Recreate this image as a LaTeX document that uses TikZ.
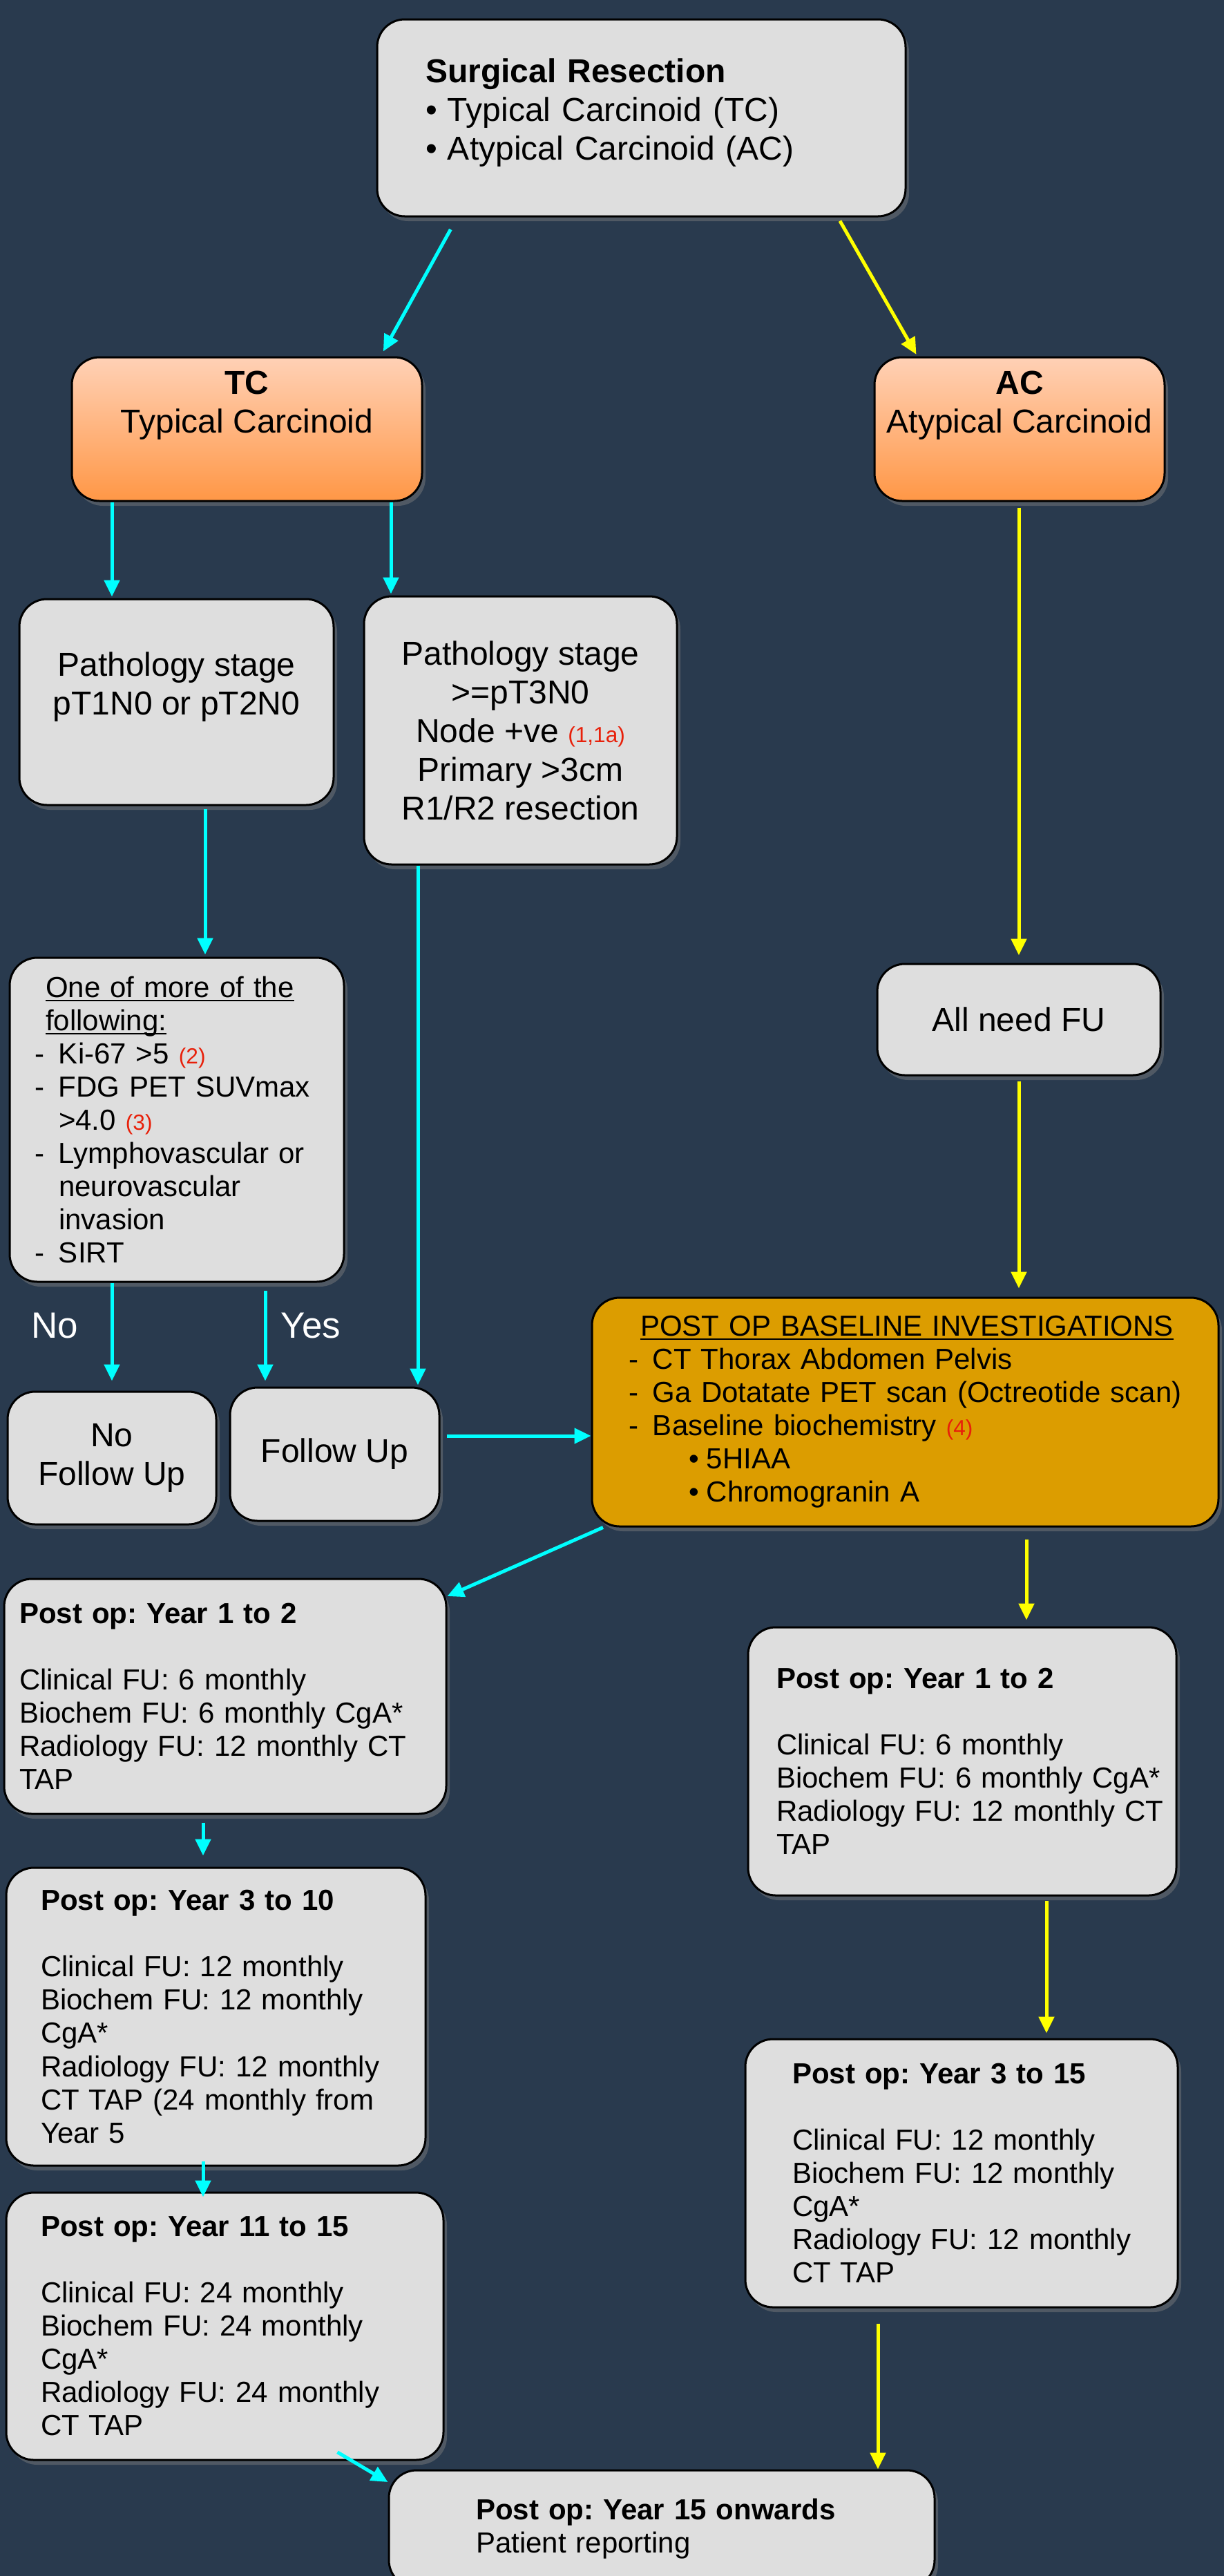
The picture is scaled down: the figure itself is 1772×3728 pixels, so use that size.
\documentclass[tikz,border=0pt]{standalone}
\usepackage{fontspec}
\setmainfont{Liberation Sans}
\usetikzlibrary{arrows.meta,shadows}
\definecolor{sfondo}{RGB}{41,58,78}
\definecolor{grigio}{RGB}{222,222,222}
\definecolor{oro}{RGB}{220,157,0}
\definecolor{pescachiaro}{RGB}{255,209,182}
\definecolor{pescascuro}{RGB}{255,151,70}
\definecolor{rossoref}{RGB}{232,32,10}
\definecolor{ciano}{RGB}{0,255,255}
\definecolor{giallo}{RGB}{255,255,0}
\frenchspacing
\newcommand{\grande}{\fontsize{13.66}{15.94}\selectfont}
\newcommand{\normale}{\fontsize{11.95}{13.66}\selectfont}
\newcommand{\rif}[1]{{\fontsize{9}{10}\selectfont\color{rossoref}#1}}
\newcommand{\trattino}{\makebox[3.5mm][l]{-}}
\newcommand{\pallino}{\makebox[3.2mm][l]{\textbullet}}
\newcommand{\sotto}[1]{\leavevmode\setbox0\hbox{#1}\rlap{\rule[-0.55mm]{\wd0}{0.25mm}}\box0}
\tikzset{
  riquadro/.style={draw=black, line width=0.3mm, rounded corners=4mm, fill=grigio,
    drop shadow={shadow xshift=0.5mm, shadow yshift=-0.7mm, opacity=0.45}},
  centrato/.style={riquadro, font=\grande, align=center},
  arancio/.style={centrato, top color=pescachiaro, bottom color=pescascuro},
  elenco/.style={riquadro, font=\normale, align=left},
  frecciaciano/.style={draw=ciano, line width=0.5mm, -{Triangle[length=2.4mm, width=2.2mm]}},
  frecciagiallo/.style={draw=giallo, line width=0.5mm, -{Triangle[length=2.4mm, width=2.2mm]}},
  scritta/.style={text=white, font=\fontsize{15.08}{18}\selectfont}
}
\begin{document}
\begin{tikzpicture}[x=0.1mm, y=-0.1mm]
        \useasboundingbox (0,0) rectangle (1772,3728);
        \fill[sfondo] (0,0) rectangle (1772,3728); %sfondo
        %resezione
        \node[riquadro, font=\grande, align=left, text width=62.5mm, inner xsep=7mm, minimum width=76.5mm, minimum height=28.5mm] (resezione) at (928.5,170.5) {\textbf{Surgical Resection}\\\pallino Typical Carcinoid (TC)\\\pallino Atypical Carcinoid (AC)\\[-3.2mm]\mbox{}};
        %carcinoide tipico / atipico
        \node[arancio, minimum width=50.7mm, minimum height=20.8mm] (tc) at (357.5,621) {\textbf{TC}\\Typical Carcinoid\\[2.3mm]\mbox{}};
        \node[arancio, minimum width=42mm, minimum height=20.8mm] (ac) at (1476,621) {\textbf{AC}\\Atypical Carcinoid\\[2.3mm]\mbox{}};
        %stadi patologici
        \node[centrato, minimum width=45.5mm, minimum height=29.8mm] (stadio1) at (255.5,1016) {Pathology stage\\pT1N0 or pT2N0\\[-0.2mm]\mbox{}};
        \node[centrato, minimum width=45.3mm, minimum height=38.8mm] (stadio2) at (753.5,1057) {Pathology stage\\>=pT3N0\\Node +ve \rif{(1,1a)}\\Primary >3cm\\R1/R2 resection};
        \node[elenco, text width=41.2mm, inner xsep=3.6mm, minimum width=48.4mm, minimum height=46.9mm] (criteri) at (256,1620.5) {\hspace*{1.6mm}\sotto{One of more of the}\\\hspace*{1.6mm}\sotto{following:}\\\trattino Ki-67 >5 \rif{(2)}\\\trattino FDG PET SUVmax\\\hspace*{3.5mm}>4.0 \rif{(3)}\\\trattino Lymphovascular or\\\hspace*{3.5mm}neurovascular\\\hspace*{3.5mm}invasion\\\trattino SIRT};
        \node[centrato, minimum width=41mm, minimum height=16.1mm] (tuttifu) at (1475,1475.5) {All need FU};
        %follow up si/no
        \node[centrato, minimum width=30.2mm, minimum height=19.2mm] (nofu) at (162,2110) {No\\Follow Up};
        \node[centrato, minimum width=30.3mm, minimum height=19.3mm] (fu) at (484.5,2104.5) {Follow Up};
        \node[scritta] (no) at (79,1918) {No};
        \node[scritta] (si) at (450,1918) {Yes};
        %indagini basali
        \node[elenco, fill=oro, text width=80.1mm, inner xsep=5.3mm, minimum width=90.7mm, minimum height=33.1mm] (basale) at (1310.5,2043.5) {\hspace*{1.7mm}\sotto{POST OP BASELINE INVESTIGATIONS}\\\trattino CT Thorax Abdomen Pelvis\\\trattino Ga Dotatate PET scan (Octreotide scan)\\\trattino Baseline biochemistry \rif{(4)}\\\hspace*{8.7mm}\makebox[2.6mm][l]{\textbullet}5HIAA\\\hspace*{8.7mm}\makebox[2.6mm][l]{\textbullet}Chromogranin A};
        %controlli TC
        \node[elenco, text width=59.6mm, inner xsep=2.2mm, minimum width=64mm, minimum height=34mm] (tcanno1) at (326,2455) {\textbf{Post op: Year 1 to 2}\\[4.8mm]Clinical FU: 6 monthly\\Biochem FU: 6 monthly CgA*\\Radiology FU: 12 monthly CT\\TAP};
        \node[elenco, text width=50.7mm, inner xsep=5mm, minimum width=60.7mm, minimum height=43.1mm] (tcanno3) at (312.5,2918.5) {\textbf{Post op: Year 3 to 10}\\[4.8mm]Clinical FU: 12 monthly\\Biochem FU: 12 monthly\\CgA*\\Radiology FU: 12 monthly\\CT TAP (24 monthly from\\Year 5};
        \node[elenco, text width=53.3mm, inner xsep=5mm, minimum width=63.3mm, minimum height=38.7mm] (tcanno11) at (325.5,3366.5) {\textbf{Post op: Year 11 to 15}\\[4.8mm]Clinical FU: 24 monthly\\Biochem FU: 24 monthly\\CgA*\\Radiology FU: 24 monthly\\CT TAP};
        %controlli AC
        \node[elenco, text width=53.8mm, inner xsep=4.1mm, minimum width=62mm, minimum height=38.8mm] (acanno1) at (1393,2549) {\textbf{Post op: Year 1 to 2}\\[4.8mm]Clinical FU: 6 monthly\\\mbox{Biochem FU: 6 monthly CgA*}\\\mbox{Radiology FU: 12 monthly CT}\\TAP};
        \node[elenco, text width=49mm, inner xsep=6.8mm, minimum width=62.6mm, minimum height=38.8mm] (acanno3) at (1392,3145) {\textbf{Post op: Year 3 to 15}\\[4.8mm]Clinical FU: 12 monthly\\Biochem FU: 12 monthly\\CgA*\\\mbox{Radiology FU: 12 monthly}\\CT TAP};
        \node[elenco, text width=53.8mm, inner xsep=12.6mm, minimum width=79mm, minimum height=17mm] (finale) at (958,3660) {\textbf{Post op: Year 15 onwards}\\Patient reporting};
        %frecce
        \draw[frecciaciano, shorten <=2mm, shorten >=0.8mm] (resezione.south -| 662,0) -- (tc.north -| 551,0);
        \draw[frecciagiallo, shorten <=0.6mm, shorten >=0.3mm] (resezione.south -| 1213,0) -- (ac.north -| 1328,0);
        \draw[frecciaciano, shorten >=0.2mm] (tc.south -| 162,0) -- (stadio1.north -| 162,0);
        \draw[frecciaciano, shorten >=0.2mm] (tc.south -| 566,0) -- (stadio2.north -| 566,0);
        \draw[frecciagiallo, shorten <=0.8mm, shorten >=1.1mm] (ac.south -| 1475,0) -- (tuttifu.north -| 1475,0);
        \draw[frecciaciano, shorten <=0.4mm, shorten >=0.3mm] (stadio1.south -| 297,0) -- (criteri.north -| 297,0);
        \draw[frecciaciano, shorten >=1.4mm] (criteri.south -| 162,0) -- (nofu.north -| 162,0);
        \draw[frecciaciano, shorten <=1.1mm, shorten >=0.8mm] (criteri.south -| 384,0) -- (fu.north -| 384,0);
        \draw[frecciaciano, shorten >=0.2mm] (stadio2.south -| 605,0) -- (fu.north -| 605,0);
        \draw[frecciaciano, shorten <=0.9mm] (fu.east |- 0,2078) -- (basale.west |- 0,2078);
        \draw[frecciagiallo, shorten <=0.7mm, shorten >=1.2mm] (tuttifu.south -| 1475,0) -- (basale.north -| 1475,0);
        \draw[frecciaciano] (basale.south -| 873,0) -- (tcanno1.east |- 0,2310);
        \draw[frecciagiallo, shorten <=1.7mm, shorten >=0.9mm] (basale.south -| 1486,0) -- (acanno1.north -| 1486,0);
        \draw[frecciaciano, shorten <=1.1mm, shorten >=1.6mm] (tcanno1.south -| 294,0) -- (tcanno3.north -| 294,0);
        \draw[frecciagiallo, shorten <=0.6mm, shorten >=0.7mm] (acanno1.south -| 1515,0) -- (acanno3.north -| 1515,0);
        \draw[frecciaciano, shorten <=-0.8mm, shorten >=-0.8mm] (tcanno3.south -| 294,0) -- (tcanno11.north -| 294,0);
        \draw[frecciaciano, shorten <=-2.5mm] (tcanno11.south -| 510,0) -- (finale.west |- 0,3592);
        \draw[frecciagiallo, shorten <=2.2mm] (acanno3.south -| 1271,0) -- (finale.north -| 1271,0);
\end{tikzpicture}
\end{document}
